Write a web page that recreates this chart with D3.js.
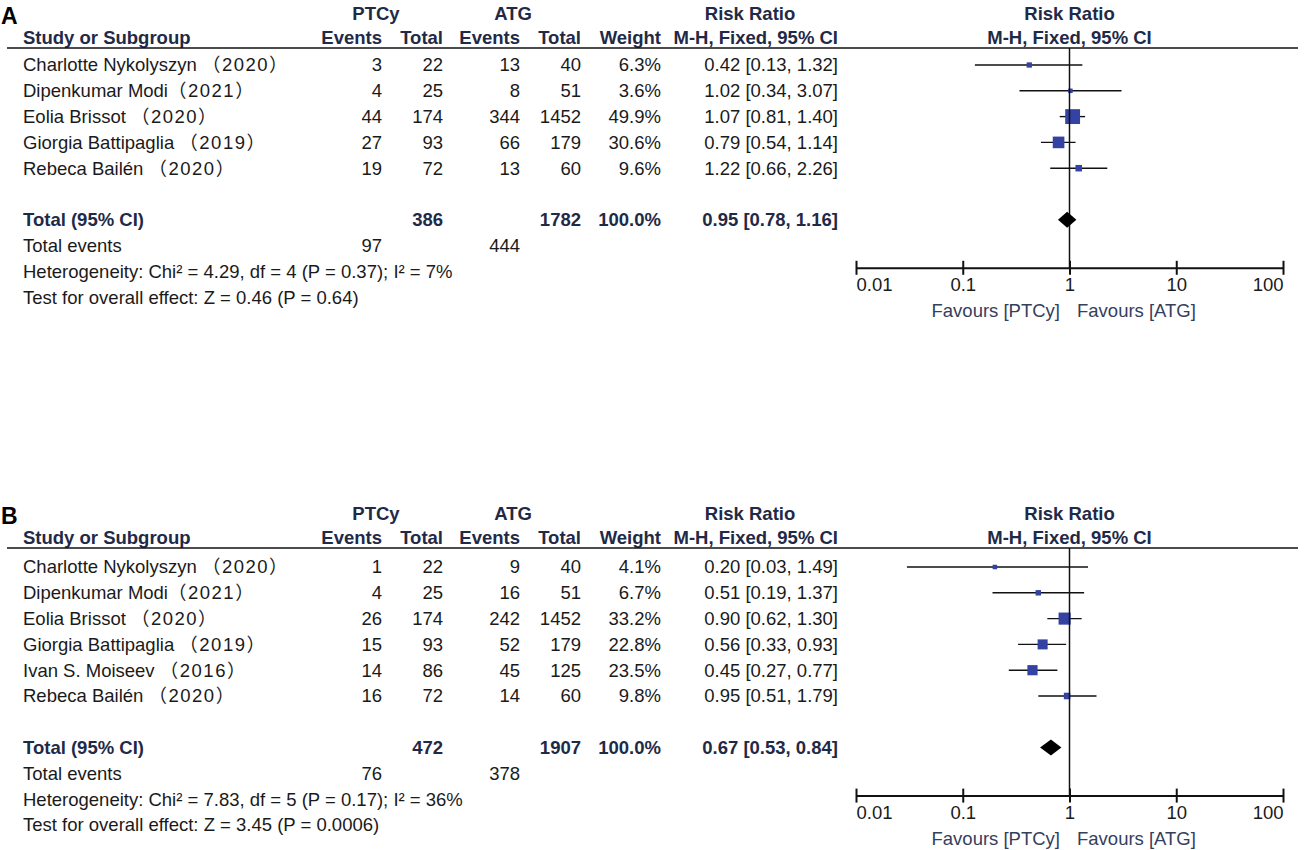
<!DOCTYPE html>
<html lang="en">
<head>
    <meta charset="UTF-8">
    <title>PTCy vs ATG forest plots</title>
    <script src="https://cdn.jsdelivr.net/npm/d3@7"></script>
    <style>
        body{ margin:0; background:#fff; }
        text{ font-family: "Liberation Sans", Arial, "Noto Sans CJK SC", sans-serif; font-size:18.5px; fill:#1a1a1a; }
        .head{ font-weight:bold; fill:#1f2a48; }
        .panel{ font-weight:bold; font-size:23px; fill:#000; }
        .fav{ fill:#34405c; }
        .yr{ letter-spacing:1.5px; }
    </style>
</head>
<body>
<svg width="1305" height="850"></svg>
<script>
    // ---- panel A data ----
    const studiesA = ["Charlotte Nykolyszyn （2020）", "Dipenkumar Modi（2021）", "Eolia Brissot （2020）",
        "Giorgia Battipaglia （2019）", "Rebeca Bailén （2020）"];
    const ptcyEventsA = [3, 4, 44, 27, 19];
    const ptcyTotalA = [22, 25, 174, 93, 72];
    const atgEventsA = [13, 8, 344, 66, 13];
    const atgTotalA = [40, 51, 1452, 179, 60];
    const weightA = [6.3, 3.6, 49.9, 30.6, 9.6];
    const rrA = [0.42, 1.02, 1.07, 0.79, 1.22];
    const lowA = [0.13, 0.34, 0.81, 0.54, 0.66];
    const highA = [1.32, 3.07, 1.40, 1.14, 2.26];
    const totalA = {ptcyTotal: 386, atgTotal: 1782, ptcyEvents: 97, atgEvents: 444, rr: 0.95, low: 0.78, high: 1.16,
        het: "Heterogeneity: Chi² = 4.29, df = 4 (P = 0.37); I² = 7%",
        test: "Test for overall effect: Z = 0.46 (P = 0.64)"};

    // ---- panel B data ----
    const studiesB = ["Charlotte Nykolyszyn （2020）", "Dipenkumar Modi（2021）", "Eolia Brissot （2020）",
        "Giorgia Battipaglia （2019）", "Ivan S. Moiseev （2016）", "Rebeca Bailén （2020）"];
    const ptcyEventsB = [1, 4, 26, 15, 14, 16];
    const ptcyTotalB = [22, 25, 174, 93, 86, 72];
    const atgEventsB = [9, 16, 242, 52, 45, 14];
    const atgTotalB = [40, 51, 1452, 179, 125, 60];
    const weightB = [4.1, 6.7, 33.2, 22.8, 23.5, 9.8];
    const rrB = [0.20, 0.51, 0.90, 0.56, 0.45, 0.95];
    const lowB = [0.03, 0.19, 0.62, 0.33, 0.27, 0.51];
    const highB = [1.49, 1.37, 1.30, 0.93, 0.77, 1.79];
    const totalB = {ptcyTotal: 472, atgTotal: 1907, ptcyEvents: 76, atgEvents: 378, rr: 0.67, low: 0.53, high: 0.84,
        het: "Heterogeneity: Chi² = 7.83, df = 5 (P = 0.17); I² = 36%",
        test: "Test for overall effect: Z = 3.45 (P = 0.0006)"};

    const axisTicks = [0.01, 0.1, 1, 10, 100];

    const svg = d3.select("svg");
    const x = d3.scaleLog().domain([0.01, 100]).range([856, 1283]);
    const boxSize = d3.scaleSqrt().domain([0, 100]).range([0, 21]);
    const f2 = d3.format(".2f");
    const ciText = (r, l, h) => `${f2(r)} [${f2(l)}, ${f2(h)}]`;

    // right edges of the numeric columns
    const col = {ev1: 382, tot1: 443, ev2: 520, tot2: 581, wt: 661, ci: 838};

    function drawPanel(letter, top, row0, studies, ev1, tot1, ev2, tot2, wt, rr, lo, hi, tot) {
        const g = svg.append("g").attr("transform", `translate(0,${top})`);
        const n = studies.length;
        const y = d3.scaleLinear().domain([0, 1]).range([row0, row0 + 25.8]);
        const lineY = 48, axisY = y(n + 1) + 48;

        g.append("text").attr("class", "panel").attr("x", 1).attr("y", 24).text(letter);

        // header
        const h1 = 20, h2 = 44;
        const heads = [
            {t: "PTCy", x: 376, y: h1, a: "middle"}, {t: "ATG", x: 513, y: h1, a: "middle"},
            {t: "Risk Ratio", x: 750, y: h1, a: "middle"}, {t: "Risk Ratio", x: x(1), y: h1, a: "middle"},
            {t: "Study or Subgroup", x: 23, y: h2, a: "start"},
            {t: "Events", x: col.ev1, y: h2, a: "end"}, {t: "Total", x: col.tot1, y: h2, a: "end"},
            {t: "Events", x: col.ev2, y: h2, a: "end"}, {t: "Total", x: col.tot2, y: h2, a: "end"},
            {t: "Weight", x: col.wt, y: h2, a: "end"}, {t: "M-H, Fixed, 95% CI", x: col.ci, y: h2, a: "end"},
            {t: "M-H, Fixed, 95% CI", x: x(1), y: h2, a: "middle"}
        ];
        g.selectAll(".head").data(heads).enter().append("text")
            .attr("class", "head").attr("x", d => d.x).attr("y", d => d.y)
            .attr("text-anchor", d => d.a).text(d => d.t);

        g.append("line").attr("x1", 7).attr("x2", 1298).attr("y1", lineY).attr("y2", lineY)
            .attr("stroke", "#111").attr("stroke-width", 1.6);

        // study rows
        const rows = g.selectAll(".row").data(studies).enter().append("g")
            .attr("transform", (d, i) => `translate(0,${y(i)})`);
        const names = rows.append("text").attr("x", 23).attr("dy", "0.35em");
        names.append("tspan").text(d => d.slice(0, d.indexOf("（")));
        names.append("tspan").attr("class", "yr").text(d => d.slice(d.indexOf("（")));
        const cells = [
            [col.ev1, i => ev1[i]], [col.tot1, i => tot1[i]], [col.ev2, i => ev2[i]], [col.tot2, i => tot2[i]],
            [col.wt, i => wt[i].toFixed(1) + "%"], [col.ci, i => ciText(rr[i], lo[i], hi[i])]
        ];
        cells.forEach(([cx, fn]) => {
            rows.append("text").attr("x", cx).attr("dy", "0.35em").attr("text-anchor", "end")
                .text((d, i) => fn(i));
        });

        // total rows
        const ty = y(n + 1);
        g.append("text").attr("class", "head").attr("x", 23).attr("y", ty).attr("dy", "0.35em").text("Total (95% CI)");
        [[col.tot1, tot.ptcyTotal], [col.tot2, tot.atgTotal], [col.wt, "100.0%"], [col.ci, ciText(tot.rr, tot.low, tot.high)]]
            .forEach(([cx, t]) => g.append("text").attr("class", "head").attr("x", cx).attr("y", ty)
                .attr("dy", "0.35em").attr("text-anchor", "end").text(t));
        g.append("text").attr("x", 23).attr("y", y(n + 2)).attr("dy", "0.35em").text("Total events");
        g.append("text").attr("x", col.ev1).attr("y", y(n + 2)).attr("dy", "0.35em").attr("text-anchor", "end").text(tot.ptcyEvents);
        g.append("text").attr("x", col.ev2).attr("y", y(n + 2)).attr("dy", "0.35em").attr("text-anchor", "end").text(tot.atgEvents);
        g.append("text").attr("x", 23).attr("y", y(n + 3)).attr("dy", "0.35em").text(tot.het);
        g.append("text").attr("x", 23).attr("y", y(n + 4)).attr("dy", "0.35em").text(tot.test);

        // forest plot
        g.append("line").attr("x1", x(1)).attr("x2", x(1)).attr("y1", lineY).attr("y2", axisY)
            .attr("stroke", "#111").attr("stroke-width", 1.5);

        rows.append("line").attr("x1", (d, i) => x(lo[i])).attr("x2", (d, i) => x(hi[i]))
            .attr("stroke", "#111").attr("stroke-width", 1.4);
        rows.append("rect")
            .attr("x", (d, i) => x(rr[i]) - Math.max(4.5, boxSize(wt[i])) / 2)
            .attr("y", (d, i) => -Math.max(4.5, boxSize(wt[i])) / 2)
            .attr("width", (d, i) => Math.max(4.5, boxSize(wt[i])))
            .attr("height", (d, i) => Math.max(4.5, boxSize(wt[i])))
            .attr("fill", "#3342a3");

        const dh = 8;
        g.append("path")
            .attr("d", `M${x(tot.low)},${ty} L${x(tot.rr)},${ty - dh} L${x(tot.high)},${ty} L${x(tot.rr)},${ty + dh} Z`)
            .attr("fill", "#000");

        // axis
        const ax = g.append("g").attr("transform", `translate(0,${axisY})`)
            .call(d3.axisBottom(x).tickValues(axisTicks).tickFormat(d3.format("~g")).tickSizeOuter(0).tickSizeInner(7));
        ax.select(".domain").attr("stroke", "#111").attr("stroke-width", 2);
        ax.selectAll(".tick line").attr("y1", -7).attr("y2", 7).attr("stroke", "#111").attr("stroke-width", 2);
        ax.selectAll(".tick text").attr("y", 10).attr("font-size", null).attr("font-family", null)
            .style("font-size", "18.5px").attr("fill", "#1a1a1a")
            .attr("text-anchor", (d, i) => i === 0 ? "start" : (i === axisTicks.length - 1 ? "end" : "middle"));

        g.append("text").attr("class", "fav").attr("x", 1060).attr("y", axisY + 49).attr("text-anchor", "end").text("Favours [PTCy]");
        g.append("text").attr("class", "fav").attr("x", 1077).attr("y", axisY + 49).text("Favours [ATG]");
    }

    drawPanel("A", 0, 65, studiesA, ptcyEventsA, ptcyTotalA, atgEventsA, atgTotalA, weightA, rrA, lowA, highA, totalA);
    drawPanel("B", 500, 67, studiesB, ptcyEventsB, ptcyTotalB, atgEventsB, atgTotalB, weightB, rrB, lowB, highB, totalB);
</script>
</body>
</html>
